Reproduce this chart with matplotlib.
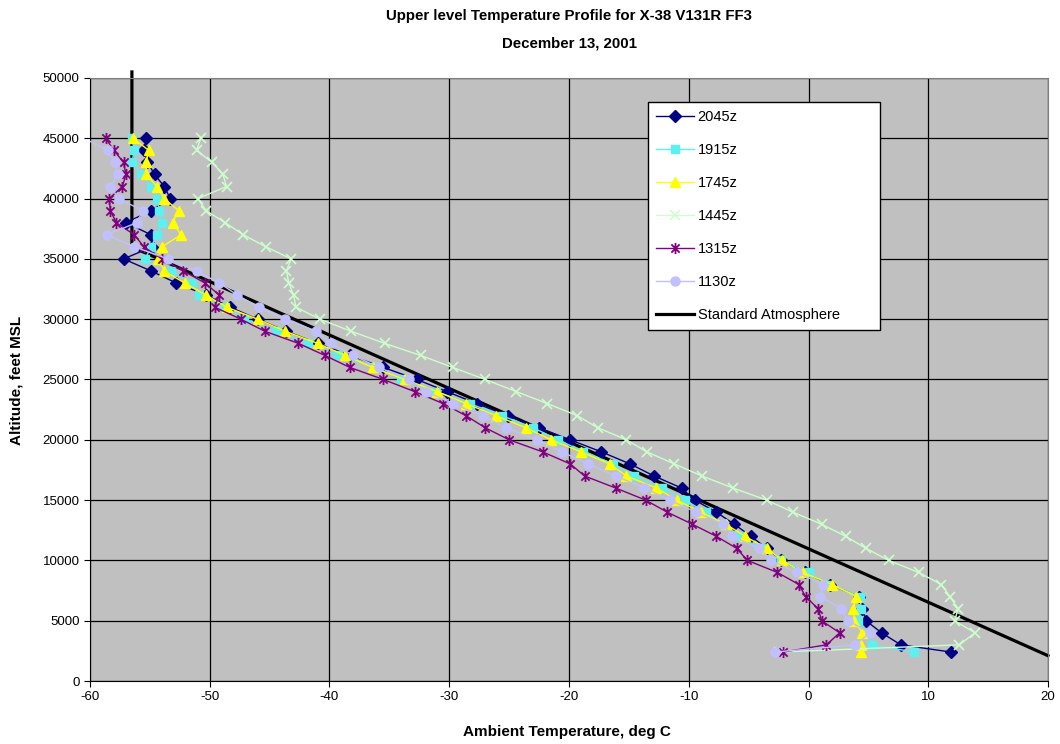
import matplotlib
matplotlib.use("Agg")
import matplotlib.pyplot as plt
from matplotlib.path import Path

plt.rcParams['font.family'] = ['Liberation Sans', 'DejaVu Sans']
plt.rcParams['axes.unicode_minus'] = False

# altitude levels, feet MSL (surface point first)
alt = [2400, 3000, 4000, 5000, 6000, 7000, 8000, 9000, 10000, 11000, 12000,
       13000, 14000, 15000, 16000, 17000, 18000, 19000, 20000, 21000, 22000,
       23000, 24000, 25000, 26000, 27000, 28000, 29000, 30000, 31000, 32000,
       33000, 34000, 35000, 36000, 37000, 38000, 39000, 40000, 41000, 42000,
       43000, 44000, 45000]

# ambient temperature, deg C, per sounding
t_2045 = [11.9, 7.7, 6.1, 4.8, 4.5, 4.2, 1.8, -0.3, -2.3, -3.5, -4.8,
          -6.2, -7.7, -9.5, -10.6, -12.9, -14.9, -17.3, -19.9, -22.5, -25.1,
          -27.7, -30.2, -32.7, -35.5, -38.3, -41.0, -43.6, -46.0, -48.3, -50.3,
          -52.8, -54.9, -57.2, -54.8, -54.9, -57.0, -54.9, -53.3, -53.8, -54.6,
          -55.2, -55.5, -55.3]
t_1915 = [8.85, 5.3, 4.8, 4.1, 4.4, 4.3, 1.75, 0.0, -2.3, -4.0, -5.8,
          -7.1, -8.6, -10.3, -12.2, -14.6, -16.3, -18.8, -20.9, -23.0, -25.6,
          -28.3, -31.1, -34.0, -36.2, -39.3, -41.8, -44.4, -47.1, -48.7, -50.9,
          -51.5, -53.2, -55.4, -54.9, -54.4, -54.0, -54.2, -54.4, -54.9, -55.7,
          -56.5, -56.3, -56.5]
t_1745 = [4.4, 4.4, 4.5, 3.8, 3.75, 4.0, 2.0, -0.5, -2.2, -3.5, -5.3,
          -6.9, -9.0, -11.0, -12.7, -15.2, -16.6, -19.0, -21.5, -23.6, -26.1,
          -28.6, -31.0, -33.7, -36.4, -38.7, -41.0, -43.7, -46.0, -48.6, -50.3,
          -52.1, -53.8, -54.3, -54.0, -52.4, -53.1, -52.6, -53.8, -54.4, -55.3,
          -55.3, -55.1, -56.4]
t_1445 = [-2.5, 12.6, 13.9, 12.2, 12.5, 11.8, 11.1, 9.2, 6.7, 4.8, 3.1,
          1.1, -1.3, -3.5, -6.3, -8.9, -11.2, -13.5, -15.2, -17.6, -19.3,
          -21.8, -24.4, -27.0, -29.7, -32.4, -35.4, -38.2, -40.8, -42.8, -43.0,
          -43.4, -43.6, -43.2, -45.3, -47.2, -48.7, -50.3, -51.0, -48.6, -48.9,
          -49.8, -51.1, -50.75]
t_1315 = [-2.1, 1.5, 2.6, 1.1, 0.8, -0.25, -0.8, -2.6, -5.1, -6.0, -7.7,
          -9.7, -11.8, -13.6, -16.1, -18.7, -19.9, -22.2, -25.0, -27.0, -28.6,
          -30.5, -32.9, -35.5, -38.3, -40.4, -42.6, -45.4, -47.4, -49.6, -49.2,
          -50.4, -52.2, -54.0, -55.5, -56.3, -57.8, -58.3, -58.4, -57.3, -57.0,
          -57.2, -58.0, -58.7]
t_1130 = [-2.8, 3.9, 5.15, 3.3, 2.7, 1.0, 1.25, -1.0, -3.1, -4.1, -6.4,
          -7.1, -9.4, -11.6, -13.7, -16.1, -18.4, -20.6, -22.7, -25.3, -27.2,
          -29.7, -31.9, -33.4, -35.9, -38.0, -39.9, -41.1, -43.7, -45.9, -47.7,
          -49.2, -51.1, -53.5, -56.3, -58.6, -56.1, -55.6, -57.6, -58.3, -57.7,
          -57.9, -58.5, -60.5]

# standard atmosphere reference
std_t = [-56.5, -56.5, 20.0]
std_alt = [50500, 36000, 2100]

# excel style asterisk marker
ast = Path([(0, -1), (0, 1), (-0.75, -0.75), (0.75, 0.75), (-0.75, 0.75), (0.75, -0.75)],
           [Path.MOVETO, Path.LINETO, Path.MOVETO, Path.LINETO, Path.MOVETO, Path.LINETO])

fig = plt.figure(figsize=(10.6, 7.44), dpi=100)
ax = fig.add_axes([90/1060, 63/744, 958/1060, 603/744])
ax.set_facecolor('#C0C0C0')

ax.plot(std_t, std_alt, color='black', lw=2.3, zorder=2, clip_on=False, label='_std')

series = [
    (t_2045, '2045z', '#000080', 'D', dict(ms=6.5, mfc='#000080', mec='#000080')),
    (t_1915, '1915z', '#5CF0F0', 's', dict(ms=5.5, mfc='#5CF0F0', mec='#5CF0F0')),
    (t_1745, '1745z', '#FFFF00', '^', dict(ms=7, mfc='#FFFF00', mec='#FFFF00')),
    (t_1445, '1445z', '#CCFFCC', 'x', dict(ms=7, mec='#CCFFCC', mew=1.2)),
    (t_1315, '1315z', '#800080', ast, dict(ms=8, mfc='none', mec='#800080', mew=1.3)),
    (t_1130, '1130z', '#C0C0FF', 'o', dict(ms=6.5, mfc='#C0C0FF', mec='#C0C0FF')),
]
handles = []
for t, lab, col, mk, kw in series:
    h, = ax.plot(t, alt, color=col, lw=1.0, marker=mk, label=lab, zorder=3, **kw)
    handles.append(h)
std_h, = ax.plot([], [], color='black', lw=2.3, label='Standard Atmosphere')
handles.append(std_h)

ax.set_xlim(-60, 20)
ax.set_ylim(0, 50000)
ax.set_xticks(range(-60, 21, 10))
ax.set_yticks(range(0, 50001, 5000))
ax.grid(True, color='black', lw=0.9)
ax.set_axisbelow(True)
ax.tick_params(direction='out', length=4, labelsize=9.5, colors='black')
for s in ['top', 'right']:
    ax.spines[s].set_color('#808080')
for s in ['left', 'bottom']:
    ax.spines[s].set_color('black')

leg = ax.legend(handles=handles, loc='upper left',
                bbox_to_anchor=(0.5825, 0.5, 0.2422, 0.460), mode='expand',
                borderaxespad=0, frameon=True, fancybox=False, framealpha=1,
                edgecolor='black', fontsize=10.5, labelspacing=1.3, handlelength=2.6,
                handletextpad=0.25, borderpad=0.55)
leg.get_frame().set_linewidth(1.0)

fig.text(569/1060, 1 - 16/744, 'Upper level Temperature Profile for X-38 V131R FF3',
         ha='center', va='center', fontsize=10.8, fontweight='bold')
fig.text(569/1060, 1 - 44/744, 'December 13, 2001',
         ha='center', va='center', fontsize=10.8, fontweight='bold')
fig.text(567/1060, 1 - 732/744, 'Ambient Temperature, deg C',
         ha='center', va='center', fontsize=11, fontweight='bold')
fig.text(17/1060, 1 - 380/744, 'Altitude, feet MSL', rotation=90,
         ha='center', va='center', fontsize=11, fontweight='bold')

fig.savefig('out.png', dpi=100)
